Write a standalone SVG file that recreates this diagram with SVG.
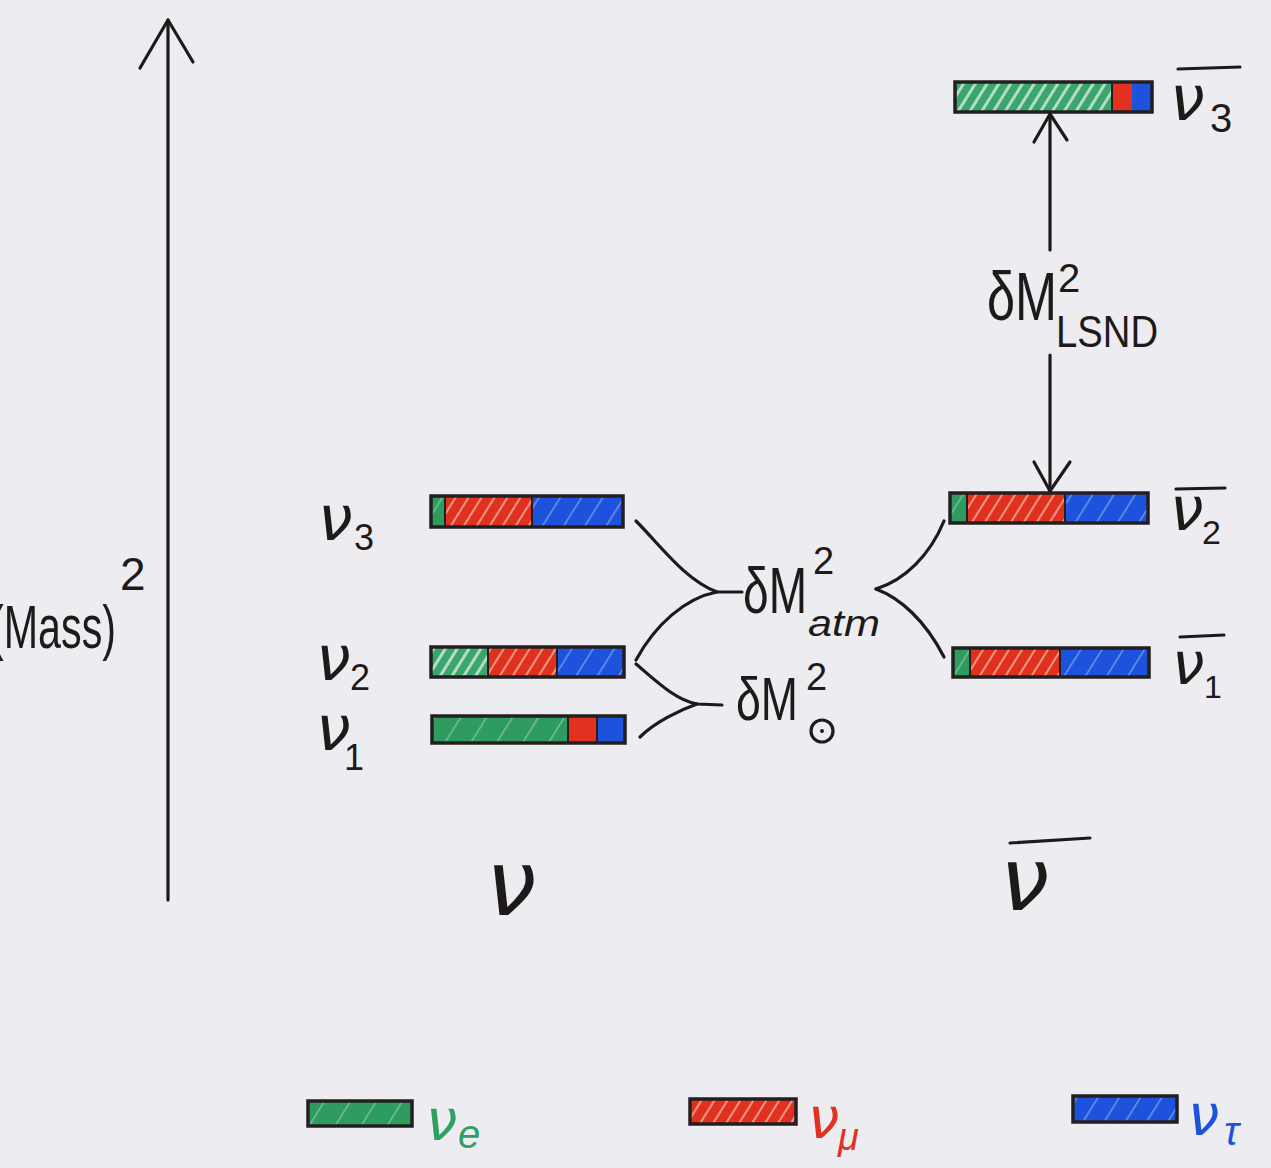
<svg xmlns="http://www.w3.org/2000/svg" width="1271" height="1168" viewBox="0 0 1271 1168">
  <defs>
    <style>
      .ink{fill:none;stroke:#1e1a1a;stroke-width:3.2;stroke-linecap:round;stroke-linejoin:round}
      .frame{fill:none;stroke:#231f1f;stroke-width:3.5}
      .sep{stroke:#231f1f;stroke-width:2}
      .t{font-family:"Liberation Sans","DejaVu Sans",sans-serif;fill:#1e1a1a}
      .nu{font-family:"DejaVu Sans","Liberation Sans",sans-serif;fill:#1e1a1a}
      .g{fill:url(#hatchGd)}
      .gl{fill:url(#hatchG)}
      .r{fill:url(#hatchR)}
      .rs{fill:#e2321f}
      .b{fill:url(#hatchB)}
      .bs{fill:#1d52dc}
    </style>
    <!-- felt-pen hatching: pale strokes running bottom-left to top-right -->
    <pattern id="hatchG" width="10" height="10" patternUnits="userSpaceOnUse" patternTransform="rotate(32)">
      <rect width="10" height="10" fill="#3aa56c"/>
      <rect width="3" height="10" fill="#e8f3ec" opacity="0.7"/>
    </pattern>
    <pattern id="hatchGd" width="22" height="22" patternUnits="userSpaceOnUse" patternTransform="rotate(32)">
      <rect width="22" height="22" fill="#2f9c5f"/>
      <rect width="1.5" height="22" fill="#cfe8d9" opacity="0.45"/>
    </pattern>
    <pattern id="hatchR" width="11" height="11" patternUnits="userSpaceOnUse" patternTransform="rotate(32)">
      <rect width="11" height="11" fill="#e0301e"/>
      <rect width="2" height="11" fill="#f6d8d0" opacity="0.6"/>
    </pattern>
    <pattern id="hatchB" width="18" height="18" patternUnits="userSpaceOnUse" patternTransform="rotate(32)">
      <rect width="18" height="18" fill="#1d52dc"/>
      <rect width="1.5" height="18" fill="#c8d4f6" opacity="0.5"/>
    </pattern>
  </defs>

  <rect width="1271" height="1168" fill="#ededf1"/>

  <!-- vertical mass axis -->
  <g id="axis">
    <line class="ink" x1="168" y1="20" x2="168" y2="900"/>
    <polyline class="ink" points="140,68 168,20 193,62"/>
    <text class="t" x="-10" y="648" font-size="62"><tspan textLength="126" lengthAdjust="spacingAndGlyphs">(Mass)</tspan><tspan x="120" y="590" font-size="46">2</tspan></text>
  </g>

  <!-- neutrino mass levels -->
  <g id="nu3">
    <rect class="g" x="431" y="496" width="14" height="31"/>
    <rect class="r" x="445" y="496" width="87" height="31"/>
    <rect class="b" x="532" y="496" width="91" height="31"/>
    <line class="sep" x1="445" y1="496" x2="445" y2="527"/>
    <line class="sep" x1="532" y1="496" x2="532" y2="527"/>
    <rect class="frame" x="431" y="496" width="192" height="31"/>
    <text class="nu" x="318" y="540" font-size="62" font-style="italic">ν<tspan class="t" x="354" y="550" font-size="36" font-style="normal">3</tspan></text>
  </g>
  <g id="nu2">
    <rect class="gl" x="431" y="647" width="57" height="30"/>
    <rect class="r" x="488" y="647" width="69" height="30"/>
    <rect class="b" x="557" y="647" width="67" height="30"/>
    <line class="sep" x1="488" y1="647" x2="488" y2="677"/>
    <line class="sep" x1="557" y1="647" x2="557" y2="677"/>
    <rect class="frame" x="431" y="647" width="193" height="30"/>
    <text class="nu" x="316" y="680" font-size="62" font-style="italic">ν<tspan class="t" x="350" y="690" font-size="36" font-style="normal">2</tspan></text>
  </g>
  <g id="nu1">
    <rect class="g" x="432" y="716" width="136" height="27"/>
    <rect class="rs" x="568" y="716" width="29" height="27"/>
    <rect class="bs" x="597" y="716" width="28" height="27"/>
    <line class="sep" x1="568" y1="716" x2="568" y2="743"/>
    <line class="sep" x1="597" y1="716" x2="597" y2="743"/>
    <rect class="frame" x="432" y="716" width="193" height="27"/>
    <text class="nu" x="316" y="750" font-size="62" font-style="italic">ν<tspan class="t" x="344" y="770" font-size="36" font-style="normal">1</tspan></text>
  </g>

  <!-- antineutrino mass levels -->
  <g id="anu3">
    <rect class="gl" x="955" y="82" width="157" height="30"/>
    <rect class="rs" x="1112" y="82" width="20" height="30"/>
    <rect class="bs" x="1132" y="82" width="20" height="30"/>
    <line class="sep" x1="1112" y1="82" x2="1112" y2="112"/>
    <rect class="frame" x="955" y="82" width="197" height="30"/>
    <line class="ink" x1="1178" y1="69" x2="1240" y2="67"/>
    <text class="nu" x="1170" y="120" font-size="62" font-style="italic">ν<tspan class="t" x="1210" y="132" font-size="40" font-style="normal">3</tspan></text>
  </g>
  <g id="anu2">
    <rect class="g" x="950" y="493" width="17" height="30"/>
    <rect class="r" x="967" y="493" width="98" height="30"/>
    <rect class="b" x="1065" y="493" width="83" height="30"/>
    <line class="sep" x1="967" y1="493" x2="967" y2="523"/>
    <line class="sep" x1="1065" y1="493" x2="1065" y2="523"/>
    <rect class="frame" x="950" y="493" width="198" height="30"/>
    <line class="ink" x1="1176" y1="489" x2="1225" y2="488"/>
    <text class="nu" x="1170" y="530" font-size="60" font-style="italic">ν<tspan class="t" x="1202" y="544" font-size="34" font-style="normal">2</tspan></text>
  </g>
  <g id="anu1">
    <rect class="g" x="953" y="648" width="17" height="29"/>
    <rect class="r" x="970" y="648" width="90" height="29"/>
    <rect class="b" x="1060" y="648" width="89" height="29"/>
    <line class="sep" x1="970" y1="648" x2="970" y2="677"/>
    <line class="sep" x1="1060" y1="648" x2="1060" y2="677"/>
    <rect class="frame" x="953" y="648" width="196" height="29"/>
    <line class="ink" x1="1180" y1="637" x2="1224" y2="635"/>
    <text class="nu" x="1172" y="684" font-size="58" font-style="italic">ν<tspan class="t" x="1204" y="698" font-size="32" font-style="normal">1</tspan></text>
  </g>

  <!-- splitting labels -->
  <g id="atm">
    <text class="t" x="743" y="613" font-size="64"><tspan textLength="64" lengthAdjust="spacingAndGlyphs">δM</tspan><tspan x="813" y="574" font-size="38">2</tspan><tspan x="808" y="636" font-size="36" font-style="italic" textLength="72" lengthAdjust="spacingAndGlyphs">atm</tspan></text>
  </g>
  <g id="sol">
    <text class="t" x="736" y="720" font-size="62"><tspan textLength="62" lengthAdjust="spacingAndGlyphs">δM</tspan><tspan x="806" y="690" font-size="38">2</tspan></text>
    <circle class="ink" cx="822" cy="731" r="11" stroke-width="2.6"/>
    <circle cx="822" cy="731" r="2" fill="#1e1a1a"/>
  </g>
  <g id="lsnd">
    <text class="t" x="987" y="320" font-size="68"><tspan textLength="70" lengthAdjust="spacingAndGlyphs">δM</tspan><tspan x="1058" y="292" font-size="40">2</tspan><tspan x="1056" y="347" font-size="44" textLength="102" lengthAdjust="spacingAndGlyphs">LSND</tspan></text>
  </g>

  <!-- column labels -->
  <g id="col-nu">
    <text class="nu" x="486" y="915" font-size="90" font-style="italic">ν</text>
  </g>
  <g id="col-anu">
    <line class="ink" x1="1010" y1="843" x2="1090" y2="838"/>
    <text class="nu" x="1000" y="910" font-size="88" font-style="italic">ν</text>
  </g>

  <!-- connectors -->
  <g id="connectors">
    <path class="ink" d="M636,521 C660,545 685,580 717,592 L742,592"/>
    <path class="ink" d="M717,592 C685,598 655,625 636,660"/>
    <path class="ink" d="M636,664 C655,680 675,700 697,704 L722,705"/>
    <path class="ink" d="M697,704 C680,710 655,722 640,737"/>
    <path class="ink" d="M944,521 C930,555 905,580 876,589"/>
    <path class="ink" d="M876,589 C900,598 925,620 944,657"/>
    <line class="ink" x1="1050" y1="114" x2="1050" y2="250"/>
    <polyline class="ink" points="1034,142 1050,114 1067,140"/>
    <line class="ink" x1="1050" y1="355" x2="1050" y2="491"/>
    <polyline class="ink" points="1034,462 1050,491 1070,462"/>
  </g>

  <!-- flavour key -->
  <g id="key-e">
    <rect class="g" x="308" y="1101" width="104" height="25"/>
    <rect class="frame" x="308" y="1101" width="104" height="25"/>
    <text class="nu" x="426" y="1140" font-size="56" font-style="italic" style="fill:#2fa060">ν<tspan class="t" x="458" y="1148" font-size="40" style="fill:#2fa060">e</tspan></text>
  </g>
  <g id="key-mu">
    <rect class="r" x="690" y="1099" width="106" height="25"/>
    <rect class="frame" x="690" y="1099" width="106" height="25"/>
    <text class="nu" x="808" y="1138" font-size="56" font-style="italic" style="fill:#e2321f">ν<tspan class="t" x="838" y="1150" font-size="38" style="fill:#e2321f">μ</tspan></text>
  </g>
  <g id="key-tau">
    <rect class="b" x="1073" y="1096" width="104" height="26"/>
    <rect class="frame" x="1073" y="1096" width="104" height="26"/>
    <text class="nu" x="1188" y="1135" font-size="56" font-style="italic" style="fill:#1d52dc">ν<tspan class="t" x="1224" y="1145" font-size="40" style="fill:#1d52dc">τ</tspan></text>
  </g>
</svg>
